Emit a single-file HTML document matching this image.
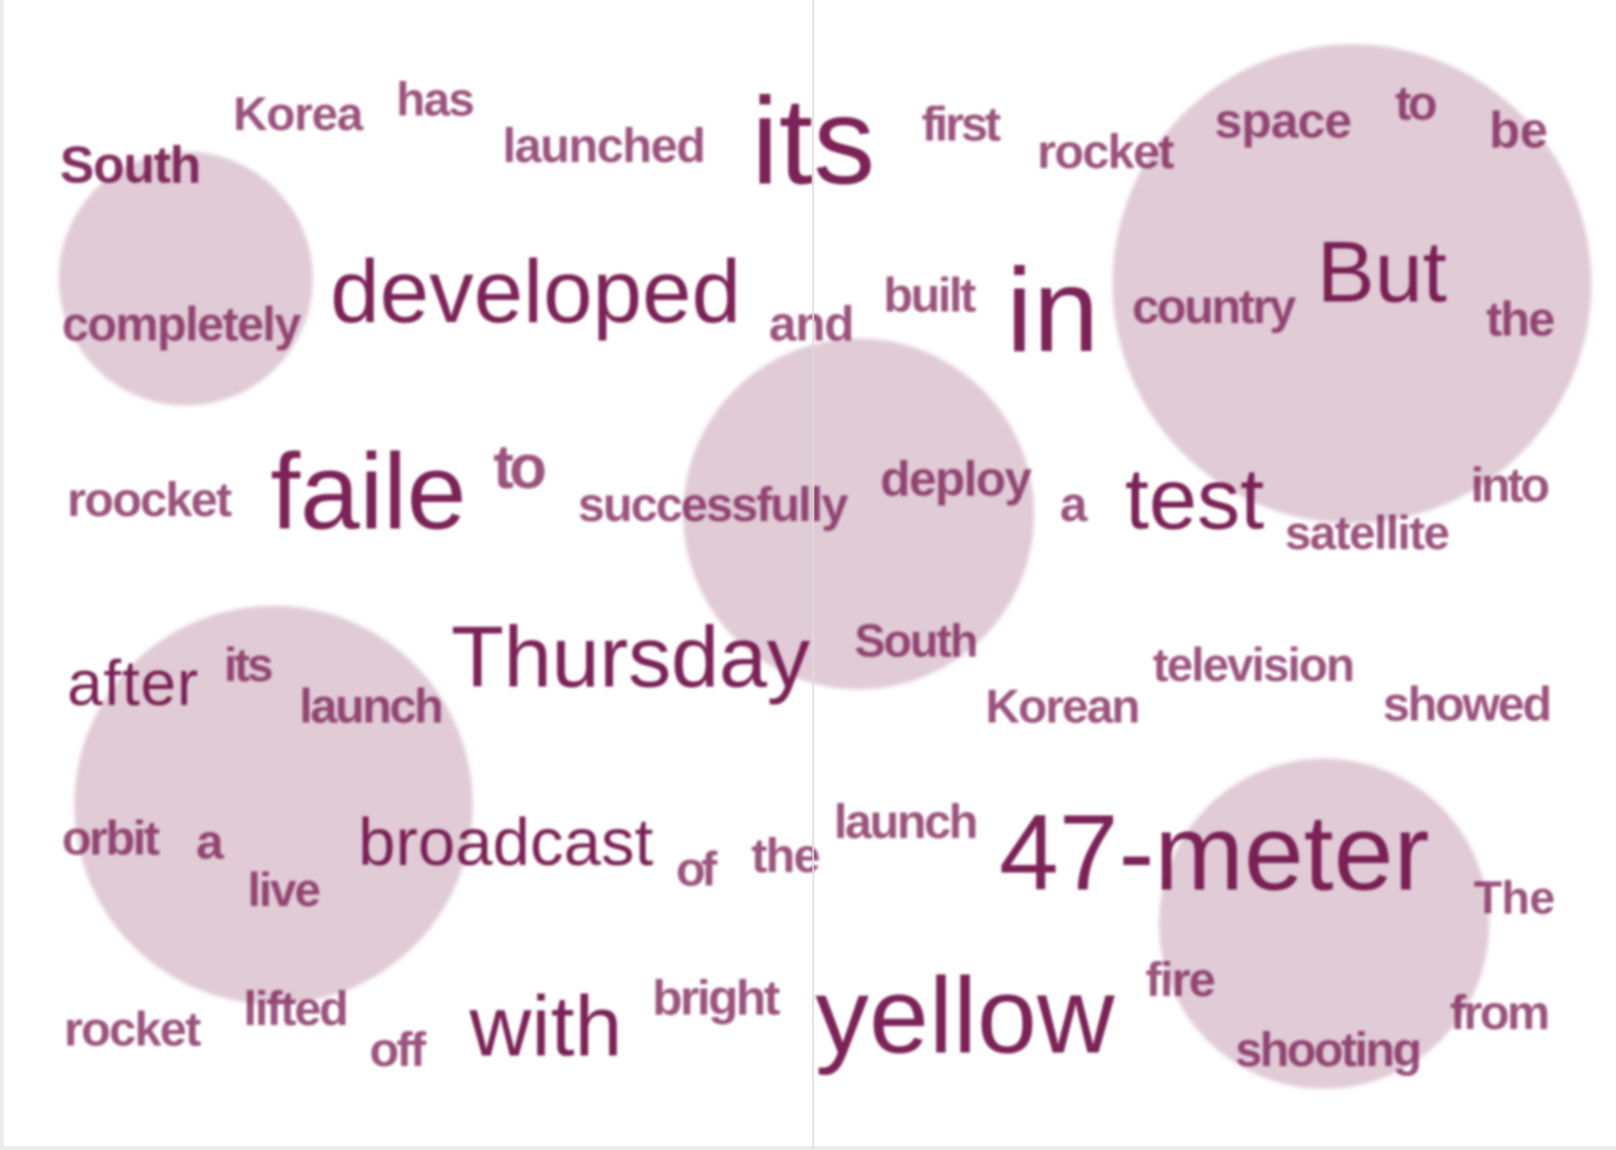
<!DOCTYPE html>
<html><head><meta charset="utf-8"><style>
html,body{margin:0;padding:0;background:#fff;}
svg{display:block;}
text{font-family:"Liberation Sans",sans-serif;fill:#74174d;}
.s{opacity:0.72;font-weight:bold;}
.b{opacity:0.95;}
</style></head><body>
<svg width="1616" height="1150" viewBox="0 0 1616 1150">
<defs><filter id="bl" x="-5%" y="-20%" width="110%" height="140%"><feGaussianBlur stdDeviation="1.3"/></filter>
<filter id="cb"><feGaussianBlur stdDeviation="2"/></filter></defs>
<rect x="0" y="0" width="4" height="1150" fill="#ececec"/>
<rect x="0" y="1146" width="1616" height="4" fill="#ececec"/>
<g transform="scale(1.032)">
<g fill="#e0cbd6" filter="url(#cb)">
<circle cx="180" cy="270" r="123"/>
<circle cx="1310" cy="275" r="232"/>
<circle cx="832" cy="498" r="170"/>
<circle cx="265" cy="780" r="193"/>
<circle cx="1283" cy="895" r="160"/>
</g>
<g filter="url(#bl)" lengthAdjust="spacingAndGlyphs">
<text class="s" x="58" y="177" font-size="50" textLength="137" style="opacity:0.9">South</text>
<text class="s" x="226" y="126" font-size="46" textLength="126">Korea</text>
<text class="s" x="384" y="112" font-size="46" textLength="76">has</text>
<text class="s" x="487" y="157" font-size="47" textLength="197">launched</text>
<text class="b" x="728" y="178" font-size="120" textLength="120">its</text>
<text class="s" x="893" y="136" font-size="47" textLength="77">first</text>
<text class="s" x="1005" y="163" font-size="47" textLength="133">rocket</text>
<text class="s" x="1177" y="133" font-size="48" textLength="133">space</text>
<text class="s" x="1352" y="116" font-size="47" textLength="41">to</text>
<text class="s" x="1443" y="143" font-size="49" textLength="57">be</text>
<text class="s" x="60" y="330" font-size="47" textLength="232">completely</text>
<text class="b" x="320" y="312" font-size="86" textLength="398">developed</text>
<text class="s" x="745" y="330" font-size="48" textLength="83">and</text>
<text class="s" x="856" y="302" font-size="47" textLength="90">built</text>
<text class="b" x="975" y="340" font-size="115" textLength="90">in</text>
<text class="s" x="1097" y="313" font-size="47" textLength="159">country</text>
<text class="b" x="1276" y="292" font-size="84" textLength="126">But</text>
<text class="s" x="1440" y="325" font-size="47" textLength="67">the</text>
<text class="s" x="65" y="500" font-size="47" textLength="160">roocket</text>
<text class="b" x="262" y="512" font-size="104" textLength="190">faile</text>
<text class="s" x="478" y="473" font-size="60" textLength="52">to</text>
<text class="s" x="560" y="505" font-size="47" textLength="262">successfully</text>
<text class="s" x="853" y="480" font-size="48" textLength="147">deploy</text>
<text class="s" x="1027" y="505" font-size="48" textLength="28">a</text>
<text class="b" x="1090" y="512" font-size="84" textLength="135">test</text>
<text class="s" x="1245" y="532" font-size="46" textLength="160">satellite</text>
<text class="s" x="1425" y="486" font-size="47" textLength="77">into</text>
<text class="b" x="65" y="683" font-size="62" textLength="127">after</text>
<text class="s" x="217" y="660" font-size="46" textLength="48">its</text>
<text class="s" x="290" y="700" font-size="47" textLength="140">launch</text>
<text class="b" x="437" y="665" font-size="84" textLength="348">Thursday</text>
<text class="s" x="828" y="636" font-size="45" textLength="120">South</text>
<text class="s" x="955" y="700" font-size="46" textLength="150">Korean</text>
<text class="s" x="1117" y="660" font-size="46" textLength="196">television</text>
<text class="s" x="1340" y="698" font-size="47" textLength="164">showed</text>
<text class="s" x="60" y="828" font-size="47" textLength="95">orbit</text>
<text class="s" x="190" y="832" font-size="48" textLength="28">a</text>
<text class="s" x="240" y="878" font-size="46" textLength="71">live</text>
<text class="b" x="347" y="838" font-size="65" textLength="286">broadcast</text>
<text class="s" x="655" y="858" font-size="47" textLength="40">of</text>
<text class="s" x="728" y="845" font-size="47" textLength="67">the</text>
<text class="s" x="808" y="812" font-size="47" textLength="140">launch</text>
<text class="b" x="968" y="862" font-size="104" textLength="417">47-meter</text>
<text class="s" x="1428" y="885" font-size="45" textLength="79">The</text>
<text class="s" x="62" y="1013" font-size="47" textLength="133">rocket</text>
<text class="s" x="236" y="993" font-size="47" textLength="102">lifted</text>
<text class="s" x="358" y="1033" font-size="47" textLength="55">off</text>
<text class="b" x="455" y="1023" font-size="83" textLength="148">with</text>
<text class="s" x="632" y="983" font-size="48" textLength="124">bright</text>
<text class="b" x="790" y="1020" font-size="104" textLength="290">yellow</text>
<text class="s" x="1110" y="965" font-size="47" textLength="68">fire</text>
<text class="s" x="1197" y="1033" font-size="47" textLength="181">shooting</text>
<text class="s" x="1405" y="997" font-size="47" textLength="97">from</text>
</g>
<line x1="788" y1="0" x2="788" y2="1112" stroke="#dddddd" stroke-width="1.5"/>
</g>
</svg>
</body></html>
